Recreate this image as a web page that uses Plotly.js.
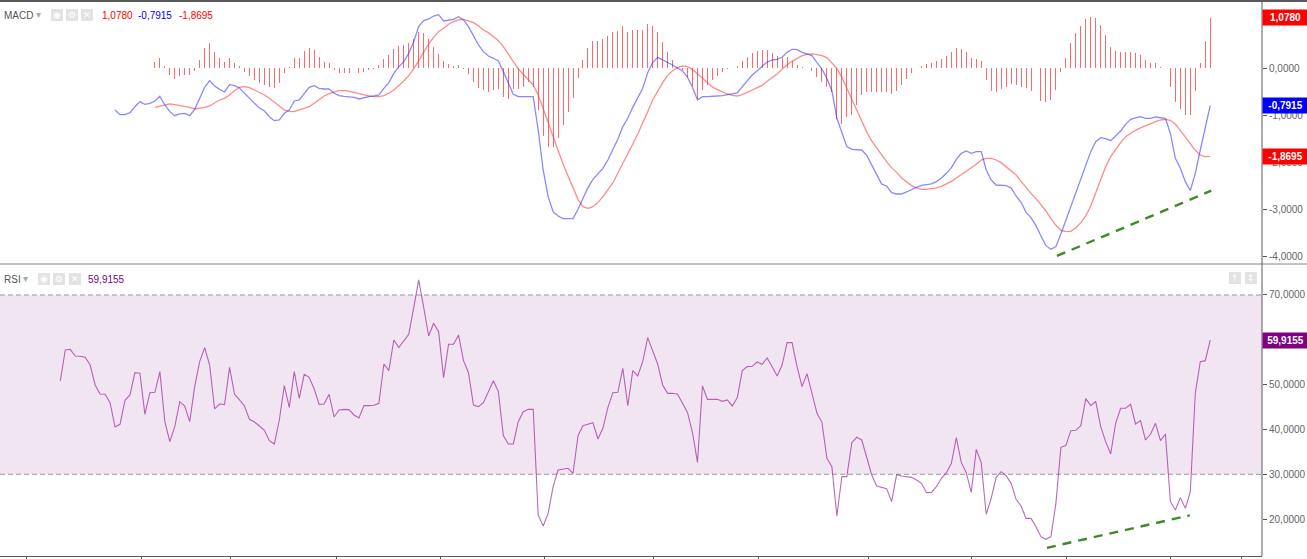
<!DOCTYPE html>
<html><head><meta charset="utf-8">
<script src="https://cdn.plot.ly/plotly-3.0.1.min.js"></script>
<style>html,body{margin:0;padding:0;background:#fff;overflow:hidden}#chart{width:1307px;height:559px}</style>
</head><body><div id="chart"></div>
<script>
// ---- data (bar index positions) ----
const rsiStart = 0, macdStart = 11, signalStart = 19;
const rsi = [50.81,57.73,57.88,56.39,56.32,56.10,54.38,49.92,47.91,47.84,
45.98,40.55,41.15,46.50,47.69,52.67,52.53,43.38,48.21,48.29,
52.90,41.74,37.28,40.63,46.20,45.24,41.74,49.55,55.13,58.25,
54.38,44.57,45.68,45.53,53.86,47.91,46.58,45.24,42.26,41.67,
40.77,39.81,37.50,36.76,42.11,49.77,44.94,52.90,46.95,52.30,
51.63,49.03,45.61,45.68,47.84,42.78,44.35,44.49,44.42,43.23,
42.56,45.31,45.31,45.39,45.83,54.61,53.12,59.96,58.25,59.67,
61.23,67.18,73.35,67.25,60.85,63.68,61.82,51.56,59.00,59.00,
61.08,55.35,52.67,45.46,45.09,45.98,48.29,50.89,48.44,38.62,
36.76,36.76,41.74,43.97,44.49,44.49,20.92,18.46,21.29,27.24,
30.96,31.11,31.33,30.22,38.62,40.85,41.22,41.52,37.87,40.25,
44.87,48.21,48.29,53.64,45.31,53.12,51.93,55.13,60.48,57.51,
54.61,49.92,48.06,48.06,47.84,45.83,43.75,39.29,32.67,49.70,
46.72,46.72,46.72,46.28,46.58,45.24,47.10,53.12,54.01,54.09,
55.05,54.53,55.95,54.01,51.93,54.38,59.37,59.37,54.01,49.55,
52.45,48.06,43.60,41.59,33.56,31.70,20.69,29.47,29.47,37.06,
38.25,37.65,33.56,29.84,27.39,27.09,26.79,23.89,29.92,29.62,
29.55,29.32,28.73,27.98,25.90,25.97,27.24,29.10,30.36,32.45,
38.17,32.59,30.36,25.97,35.57,32.59,21.07,24.64,29.32,30.59,
29.70,27.98,24.41,22.93,20.17,20.17,18.32,16.08,15.49,16.08,
23.52,36.02,36.39,39.73,39.81,40.85,46.87,45.31,46.28,40.63,
37.28,34.53,41.37,44.72,44.72,45.61,41.22,41.97,37.65,38.92,
41.37,37.50,38.99,23.89,22.03,24.79,22.40,26.12,48.06,55.13,
55.35,59.9155];
const macd = [-0.885,-0.984,-0.984,-0.942,-0.815,-0.708,-0.765,-0.744,
-0.694,-0.595,-0.779,-0.921,-1.006,-0.970,-0.956,-1.006,-0.871,-0.645,
-0.404,-0.263,-0.376,-0.447,-0.503,-0.348,-0.369,-0.418,-0.531,-0.638,
-0.744,-0.843,-0.907,-1.027,-1.112,-1.098,-0.956,-0.885,-0.694,-0.673,
-0.531,-0.404,-0.369,-0.425,-0.440,-0.440,-0.531,-0.581,-0.595,-0.602,
-0.616,-0.652,-0.623,-0.602,-0.588,-0.567,-0.425,-0.305,-0.107,0.035,
0.141,0.318,0.565,0.884,1.011,1.047,1.110,1.139,1.004,1.026,
1.040,1.096,1.026,0.884,0.686,0.495,0.353,0.261,0.212,0.155,
-0.071,-0.305,-0.553,-0.602,-0.609,-0.602,-0.602,-1.310,-2.159,-2.725,
-3.044,-3.136,-3.192,-3.185,-3.192,-2.994,-2.761,-2.534,-2.357,-2.230,
-2.124,-1.947,-1.735,-1.508,-1.239,-1.062,-0.829,-0.638,-0.425,-0.093,
0.120,0.233,0.183,0.127,0.070,0.006,-0.057,-0.192,-0.404,-0.673,
-0.602,-0.602,-0.602,-0.588,-0.581,-0.567,-0.553,-0.524,-0.390,-0.263,
-0.142,-0.050,0.035,0.134,0.176,0.190,0.233,0.339,0.403,0.396,
0.339,0.311,0.268,0.120,-0.015,-0.220,-0.475,-1.062,-1.381,-1.664,
-1.720,-1.720,-1.735,-1.850,-2.060,-2.265,-2.460,-2.499,-2.640,-2.669,
-2.669,-2.626,-2.570,-2.527,-2.485,-2.478,-2.456,-2.407,-2.329,-2.230,
-2.110,-1.933,-1.805,-1.756,-1.805,-1.770,-1.770,-2.159,-2.371,-2.478,
-2.492,-2.492,-2.541,-2.711,-2.846,-3.058,-3.171,-3.341,-3.560,-3.766,
-3.843,-3.787,-3.518,-3.221,-2.938,-2.655,-2.336,-2.032,-1.770,-1.558,
-1.473,-1.494,-1.536,-1.437,-1.331,-1.190,-1.084,-1.055,-1.027,-1.062,
-1.062,-1.034,-1.048,-1.062,-1.381,-1.911,-2.124,-2.407,-2.598,-2.230,
-1.735,-1.275,-0.7915];
const signal = [-0.829,-0.800,-0.772,-0.758,-0.772,-0.786,-0.800,-0.829,-0.864,-0.850,
-0.829,-0.800,-0.744,-0.673,-0.638,-0.567,-0.475,-0.404,-0.390,-0.411,
-0.461,-0.510,-0.567,-0.638,-0.722,-0.815,-0.885,-0.914,-0.921,-0.885,
-0.857,-0.815,-0.744,-0.659,-0.588,-0.539,-0.503,-0.475,-0.468,-0.482,
-0.510,-0.539,-0.567,-0.588,-0.602,-0.602,-0.581,-0.531,-0.461,-0.369,
-0.270,-0.156,-0.015,0.162,0.339,0.516,0.658,0.778,0.849,0.934,
0.990,1.026,1.040,1.011,0.969,0.905,0.813,0.757,0.672,0.587,
0.459,0.304,0.148,-0.015,-0.128,-0.234,-0.354,-0.567,-0.836,-1.147,
-1.452,-1.749,-2.032,-2.287,-2.548,-2.782,-2.938,-2.973,-2.938,-2.853,
-2.725,-2.591,-2.435,-2.230,-2.032,-1.812,-1.607,-1.395,-1.168,-0.921,
-0.673,-0.482,-0.305,-0.156,-0.050,0.014,0.049,0.035,-0.029,-0.114,
-0.206,-0.305,-0.397,-0.454,-0.503,-0.546,-0.574,-0.588,-0.560,-0.503,
-0.461,-0.411,-0.362,-0.277,-0.199,-0.121,-0.022,0.077,0.148,0.212,
0.268,0.297,0.304,0.290,0.268,0.226,0.120,0.000,-0.192,-0.425,
-0.659,-0.899,-1.147,-1.352,-1.543,-1.692,-1.855,-1.989,-2.110,-2.209,
-2.330,-2.420,-2.490,-2.540,-2.570,-2.570,-2.563,-2.541,-2.506,-2.456,
-2.400,-2.329,-2.258,-2.188,-2.110,-2.039,-1.947,-1.912,-1.912,-1.947,
-2.003,-2.096,-2.180,-2.265,-2.400,-2.534,-2.655,-2.768,-2.888,-3.030,
-3.192,-3.334,-3.440,-3.468,-3.461,-3.391,-3.277,-3.136,-2.923,-2.655,
-2.372,-2.088,-1.876,-1.720,-1.579,-1.452,-1.381,-1.317,-1.267,-1.218,
-1.168,-1.133,-1.098,-1.083,-1.105,-1.190,-1.317,-1.459,-1.614,-1.742,
-1.841,-1.876,-1.8695];
const hist = [0.127,0.212,0.049,-0.142,-0.227,-0.163,-0.142,-0.142,-0.050,0.176,
0.438,0.544,0.353,0.212,0.141,0.212,0.120,0.049,-0.071,-0.163,
-0.248,-0.305,-0.354,-0.404,-0.425,-0.319,-0.093,0.020,0.212,0.226,
0.374,0.424,0.389,0.247,0.141,0.106,-0.036,-0.093,-0.093,-0.107,
-0.107,-0.093,-0.071,-0.036,-0.010,0.070,0.190,0.282,0.403,0.474,
0.495,0.530,0.615,0.778,0.757,0.615,0.459,0.300,0.150,0.090,
0.050,0.070,-0.014,-0.127,-0.283,-0.410,-0.460,-0.496,-0.460,-0.432,
-0.616,-0.659,-0.447,-0.447,-0.404,-0.284,-0.404,-0.885,-1.437,-1.678,
-1.664,-1.487,-1.204,-0.921,-0.638,-0.213,0.176,0.424,0.587,0.587,
0.615,0.686,0.778,0.792,0.898,0.764,0.813,0.813,0.813,0.941,
0.898,0.778,0.566,0.353,0.176,0.035,-0.036,-0.178,-0.376,-0.659,
-0.461,-0.354,-0.248,-0.163,-0.086,-0.015,0.014,0.049,0.162,0.247,
0.332,0.367,0.389,0.389,0.332,0.261,0.212,0.233,0.162,0.070,
0.035,0.005,-0.050,-0.178,-0.284,-0.404,-0.496,-1.083,-1.190,-1.041,
-0.992,-0.786,-0.567,-0.496,-0.496,-0.503,-0.510,-0.510,-0.553,-0.482,
-0.354,-0.234,-0.093,0.005,0.056,0.084,0.106,0.155,0.205,0.261,
0.353,0.424,0.403,0.353,0.226,0.205,0.155,-0.248,-0.475,-0.496,
-0.447,-0.404,-0.333,-0.354,-0.404,-0.425,-0.475,-0.602,-0.687,-0.722,
-0.673,-0.461,-0.071,0.226,0.530,0.742,0.898,1.047,1.082,1.061,
0.919,0.707,0.459,0.367,0.353,0.353,0.353,0.318,0.282,0.176,
0.120,0.106,0.035,0.014,-0.404,-0.708,-0.864,-0.992,-0.992,-0.475,
0.106,0.587,1.078];
// user-drawn divergence trend lines (bar index, value)
const macdTrendX = [200.2, 231.2], macdTrendY = [-3.985, -2.599];
const rsiTrendX = [198.2, 226.9], rsiTrendY = [13.6, 20.85];
// axis ticks
const timeTicks = [-6.69, 16.41, 34.29, 55.39, 76.28, 97.17, 119.07, 140.16, 162.26, 183.1, 202.2, 223.1, 237.2];
const macdTicks = [0, -1, -2, -3, -4];
const rsiTicks = [20, 30, 40, 50, 60, 70];
const rsiUpper = 70, rsiLower = 30;

// ---- helpers ----
const fmt = v => v.toFixed(4).replace('.', ',');
const idx = (arr, start) => arr.map((_, k) => k + start);
const PLOT_L = 0, PLOT_R = 1262, PLOT_T = 3, PLOT_B = 556;
const px = x => (x - PLOT_L) / (PLOT_R - PLOT_L);
const py = y => (PLOT_B - y) / (PLOT_B - PLOT_T);

const lastMacd = macd[macd.length - 1], lastSig = signal[signal.length - 1], lastHist = hist[hist.length - 1], lastRsi = rsi[rsi.length - 1];

const traces = [
  {type: 'bar', x: idx(hist, signalStart), y: hist, xaxis: 'x', yaxis: 'y', width: 0.2,
   marker: {color: 'rgba(255,40,40,0.7)', line: {width: 0}}, hoverinfo: 'skip'},
  {type: 'scatter', mode: 'lines', x: idx(signal, signalStart), y: signal, xaxis: 'x', yaxis: 'y',
   line: {color: 'rgba(255,60,60,0.6)', width: 1.3}, hoverinfo: 'skip'},
  {type: 'scatter', mode: 'lines', x: idx(macd, macdStart), y: macd, xaxis: 'x', yaxis: 'y',
   line: {color: 'rgba(40,40,255,0.55)', width: 1.3}, hoverinfo: 'skip'},
  {type: 'scatter', mode: 'lines', x: macdTrendX, y: macdTrendY, xaxis: 'x', yaxis: 'y',
   line: {color: '#3f8a26', width: 2.4, dash: '9px,7px'}, hoverinfo: 'skip'},
  {type: 'scatter', mode: 'lines', x: idx(rsi, rsiStart), y: rsi, xaxis: 'x', yaxis: 'y2',
   line: {color: 'rgba(160,40,160,0.7)', width: 1.1}, hoverinfo: 'skip'},
  {type: 'scatter', mode: 'lines', x: rsiTrendX, y: rsiTrendY, xaxis: 'x', yaxis: 'y2',
   line: {color: '#3f8a26', width: 2.4, dash: '9px,7px'}, hoverinfo: 'skip'}
];

const tickFont = {family: 'Liberation Sans, Arial, sans-serif', size: 10, color: '#666'};
const yCommon = {side: 'right', ticks: 'outside', ticklen: 4, tickcolor: '#555', tickwidth: 1,
  showgrid: false, zeroline: false, showline: false, tickfont: tickFont, fixedrange: true};

const hdrFont = (c) => ({family: 'Liberation Sans, Arial, sans-serif', size: 10, color: c});
const ann = [];
function label(x, y, text, color, anchor) {
  ann.push({xref: 'paper', yref: 'paper', x: px(x), y: py(y), text: text, showarrow: false,
    xanchor: anchor || 'left', yanchor: 'middle', font: hdrFont(color), borderpad: 0});
}
// MACD header
label(3, 15, 'MACD', '#555');
label(38, 14, '▾', '#aaa', 'center');
label(101, 15, fmt(lastHist), '#ff0000');
label(137, 15, fmt(lastMacd), '#0000ff');
label(178, 15, fmt(lastSig), '#ff0000');
// RSI header
label(3, 279, 'RSI', '#555');
label(25, 278, '▾', '#aaa', 'center');
label(87, 279, fmt(lastRsi), '#800080');

const shapes = [];
// icon boxes
function iconBox(x0, y0, glyph) {
  shapes.push({type: 'rect', xref: 'paper', yref: 'paper', x0: px(x0), x1: px(x0 + 12), y0: py(y0), y1: py(y0 + 12),
    fillcolor: '#e3e3e3', line: {width: 0}});
  ann.push({xref: 'paper', yref: 'paper', x: px(x0 + 6), y: py(y0 + 6), text: glyph, showarrow: false,
    xanchor: 'center', yanchor: 'middle', font: {family: 'DejaVu Sans', size: 9, color: '#fff'}, borderpad: 0});
}
iconBox(51, 9, '◉'); iconBox(66, 9, '⚙'); iconBox(81, 9, '✕');
iconBox(38, 273, '◉'); iconBox(53, 273, '⚙'); iconBox(69, 273, '✕');
iconBox(1229, 272, '↑'); iconBox(1245, 272, '↕');

// price-scale value boxes
function valBox(yref, v, bg) {
  ann.push({xref: 'paper', yref: yref, x: 1, y: v, text: fmt(v), showarrow: false, xanchor: 'left', yanchor: 'middle',
    bgcolor: bg, borderpad: 1, width: 43, height: 13, align: 'center',
    font: {family: 'Liberation Sans, Arial, sans-serif', size: 10, color: '#fff', weight: 'bold'}});
}
valBox('y', lastHist, '#ff0000');
valBox('y', lastMacd, '#0000ff');
valBox('y', lastSig, '#ff0000');
valBox('y2', lastRsi, '#800080');

// RSI band + levels
shapes.push({type: 'rect', xref: 'paper', yref: 'y2', x0: 0, x1: 1, y0: rsiLower, y1: rsiUpper,
  fillcolor: 'rgba(128,0,128,0.1)', line: {width: 0}, layer: 'below'});
[rsiUpper, rsiLower].forEach(v => shapes.push({type: 'line', xref: 'paper', yref: 'y2', x0: 0, x1: 1, y0: v, y1: v,
  line: {color: '#999', width: 1, dash: '5px,3px'}, layer: 'below'}));
// frame lines
const frame = '#5a5a5a';
shapes.push({type: 'line', xref: 'paper', yref: 'paper', x0: 0, x1: 1307 / 1262, y0: py(1), y1: py(1), line: {color: frame, width: 2}});
shapes.push({type: 'line', xref: 'paper', yref: 'paper', x0: 0, x1: 1307 / 1262, y0: py(264), y1: py(264), line: {color: '#888', width: 1}});
shapes.push({type: 'line', xref: 'paper', yref: 'paper', x0: 1, x1: 1, y0: py(1), y1: 0, line: {color: frame, width: 1}});

const layout = {
  width: 1307, height: 559, paper_bgcolor: '#fff', plot_bgcolor: 'rgba(0,0,0,0)',
  margin: {l: 0, r: 45, t: 3, b: 3, pad: 0}, showlegend: false, hovermode: false, bargap: 0,
  xaxis: {domain: [0, 1], range: [-12.11, 241.4], anchor: 'y2', showgrid: false, zeroline: false,
    showline: true, linecolor: frame, linewidth: 1, ticks: 'outside', ticklen: 3, tickcolor: frame,
    tickvals: timeTicks, showticklabels: false, fixedrange: true},
  yaxis: Object.assign({}, yCommon, {domain: [py(263), 1], range: [-4.134, 1.386], anchor: 'x',
    tickvals: macdTicks, ticktext: macdTicks.map(fmt)}),
  yaxis2: Object.assign({}, yCommon, {domain: [0, py(265)], range: [11.77, 76.69], anchor: 'x',
    tickvals: rsiTicks, ticktext: rsiTicks.map(fmt)}),
  shapes: shapes, annotations: ann
};
Plotly.newPlot('chart', traces, layout, {displayModeBar: false, staticPlot: true});
</script></body></html>
